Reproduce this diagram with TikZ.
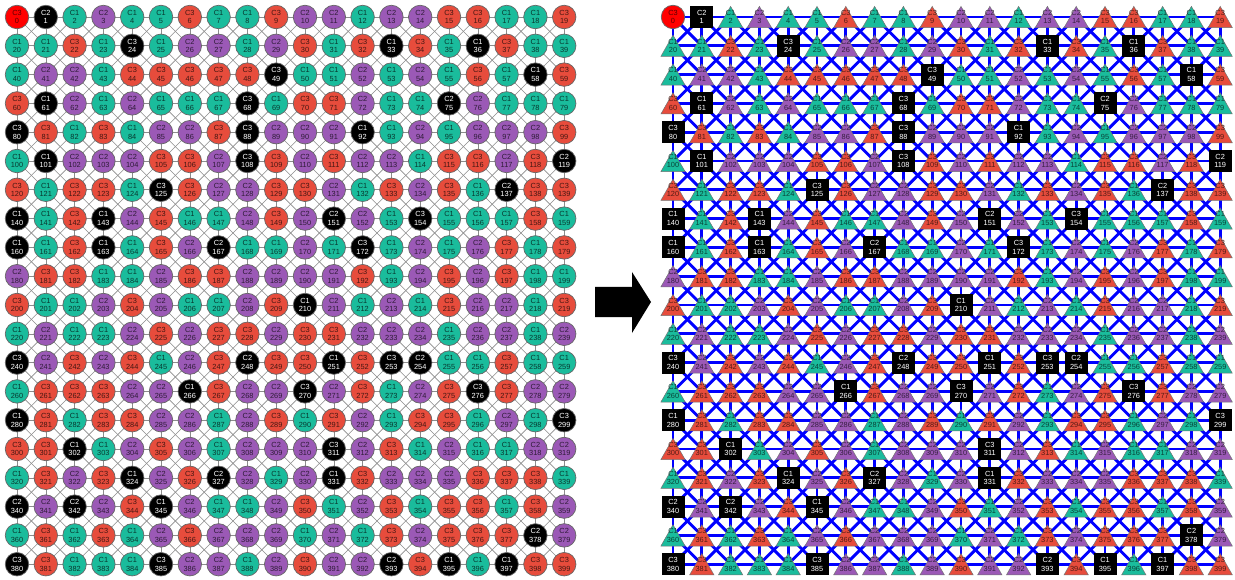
\documentclass[tikz,border=0pt]{standalone}
\usepackage{fontspec}
\setmainfont{Liberation Sans}
\usetikzlibrary{backgrounds}

\definecolor{clone}{HTML}{1ABC9C}
\definecolor{cltwo}{HTML}{9B59B6}
\definecolor{clthree}{HTML}{E74C3C}

% class label of each code
\newcommand{\clsg}{C1}
\newcommand{\clsG}{C1}
\newcommand{\clsp}{C2}
\newcommand{\clsP}{C2}
\newcommand{\clsr}{C3}
\newcommand{\clsR}{C3}
\newcommand{\clss}{C3}

\begin{document}
\begin{tikzpicture}[x=1pt, y=-1pt,
  tri/.style={rectangle, minimum width=25pt, minimum height=22pt, inner sep=0pt,
    align=center, font=\fontsize{7.4}{8.6}\selectfont, text=#1!35!black,
    path picture={\filldraw[fill=#1, draw=black!55, line width=0.5pt]
      ([yshift=-0.4pt]path picture bounding box.north)
      -- ([shift={(0.4pt,0.4pt)}]path picture bounding box.south west)
      -- ([shift={(-0.4pt,0.4pt)}]path picture bounding box.south east) -- cycle;}}]
  % Define grid and node styles
  \tikzstyle{lgrid} = [draw=black!45, line width=0.6pt]
  \tikzstyle{rgrid} = [draw=blue, line width=2.9pt]
  \tikzstyle{cirbase} = [circle, draw=black!60, line width=0.7pt, minimum size=23.5pt,
  inner sep=0pt, align=center, font=\fontsize{7.4}{8.6}\selectfont]
  \tikzstyle{cirg} = [cirbase, fill=clone, text=clone!30!black]
  \tikzstyle{cirp} = [cirbase, fill=cltwo, text=cltwo!30!black]
  \tikzstyle{cirr} = [cirbase, fill=clthree, text=clthree!30!black]
  \tikzstyle{cirs} = [cirbase, fill=red, text=red!35!black]
  \tikzstyle{cirG} = [cirbase, fill=black, text=white]
  \tikzstyle{cirP} = [cirG]
  \tikzstyle{cirR} = [cirG]
  \tikzstyle{trig} = [tri=clone]
  \tikzstyle{trip} = [tri=cltwo]
  \tikzstyle{trir} = [tri=clthree]
  \tikzstyle{tris} = [cirs]
  \tikzstyle{triG} = [rectangle, fill=black, text=white, minimum width=23pt,
  minimum height=22pt, inner sep=0pt, align=center, font=\fontsize{7.4}{8.6}\selectfont]
  \tikzstyle{triP} = [triG]
  \tikzstyle{triR} = [triG]

  \useasboundingbox (0,0) rectangle (1235,580);

  % both grids, one code per node
  \foreach \row/\codes in {
    0/{s,P,g,p,g,g,r,g,g,r,p,p,g,p,p,r,r,g,g,r},
    1/{g,g,r,g,R,g,p,p,g,p,r,g,r,G,r,g,G,r,g,g},
    2/{g,p,p,g,r,r,r,r,r,R,g,g,p,g,p,g,r,g,G,r},
    3/{r,G,p,g,p,g,g,g,R,g,r,r,p,g,g,P,p,g,g,g},
    4/{R,r,g,r,g,p,p,r,R,p,p,p,G,g,p,g,p,p,p,r},
    5/{g,G,p,p,p,r,r,p,R,r,p,r,p,p,g,r,r,p,r,P},
    6/{r,g,r,r,g,R,r,p,p,r,r,p,g,r,p,r,g,P,r,r},
    7/{G,g,r,G,p,r,g,g,p,r,p,P,p,g,R,g,g,g,r,g},
    8/{G,g,r,G,g,r,p,P,g,g,p,g,R,g,p,g,p,r,g,r},
    9/{p,r,r,g,g,p,r,r,p,p,p,p,r,g,p,r,p,r,g,g},
    10/{r,g,g,p,r,p,g,g,p,r,G,p,g,p,g,r,p,p,g,r},
    11/{g,p,g,g,p,r,p,r,r,p,r,r,p,p,p,g,p,p,g,p},
    12/{R,p,r,p,r,g,p,r,P,r,r,G,r,R,P,g,g,r,g,g},
    13/{g,r,r,r,p,p,G,r,p,p,R,p,r,g,p,r,R,r,p,p},
    14/{G,r,g,r,r,p,p,g,p,r,g,r,p,g,r,r,g,p,g,R},
    15/{r,r,G,g,p,r,p,g,p,p,p,R,p,r,g,p,g,g,p,p},
    16/{g,r,p,r,G,p,r,P,p,g,p,G,r,p,p,p,r,r,r,g},
    17/{P,p,P,p,r,G,p,g,g,p,r,g,p,r,g,r,r,g,r,p},
    18/{g,r,g,r,g,p,r,p,p,p,g,p,g,r,p,r,r,r,P,p},
    19/{R,r,g,g,g,R,p,p,g,p,r,p,p,P,r,G,g,G,r,r}}{
    \foreach \c [count=\col from 0] in \codes {
      \pgfmathtruncatemacro{\idx}{20*\row+\col}
      \node[cir\c] (l\idx) at (17+28.8*\col, 17+28.8*\row) {\csname cls\c\endcsname\\\idx};
      \node[tri\c] (r\idx) at (673+28.8*\col, 17+28.8*\row) {\csname cls\c\endcsname\\\idx};
    }
  }

  % links to the right, down and both diagonals
  \begin{pgfonlayer}{background}
    \fill[white] (0,0) rectangle (1235,580);
    \foreach \row in {0,...,19}{
      \foreach \col in {0,...,19}{
        \pgfmathtruncatemacro{\idx}{20*\row+\col}
        \pgfmathtruncatemacro{\rgt}{\idx+1}
        \pgfmathtruncatemacro{\dwn}{\idx+20}
        \pgfmathtruncatemacro{\dr}{\idx+21}
        \pgfmathtruncatemacro{\dl}{\idx+19}
        \ifnum\col<19
          \draw[lgrid] (l\idx.center) -- (l\rgt.center);
          \draw[rgrid] (r\idx.center) -- (r\rgt.center);
        \fi
        \ifnum\row<19
          \draw[lgrid] (l\idx.center) -- (l\dwn.center);
          \draw[rgrid] (r\idx.center) -- (r\dwn.center);
          \ifnum\col<19
            \draw[lgrid] (l\idx.center) -- (l\dr.center);
            \draw[rgrid] (r\idx.center) -- (r\dr.center);
          \fi
          \ifnum\col>0
            \draw[lgrid] (l\idx.center) -- (l\dl.center);
            \draw[rgrid] (r\idx.center) -- (r\dl.center);
          \fi
        \fi
      }
    }
  \end{pgfonlayer}

  % arrow between the grids
  \fill[black] (595,287) -- (632,287) -- (632,272) -- (651,302) -- (632,333)
    -- (632,317) -- (595,317) -- cycle;
\end{tikzpicture}
\end{document}
